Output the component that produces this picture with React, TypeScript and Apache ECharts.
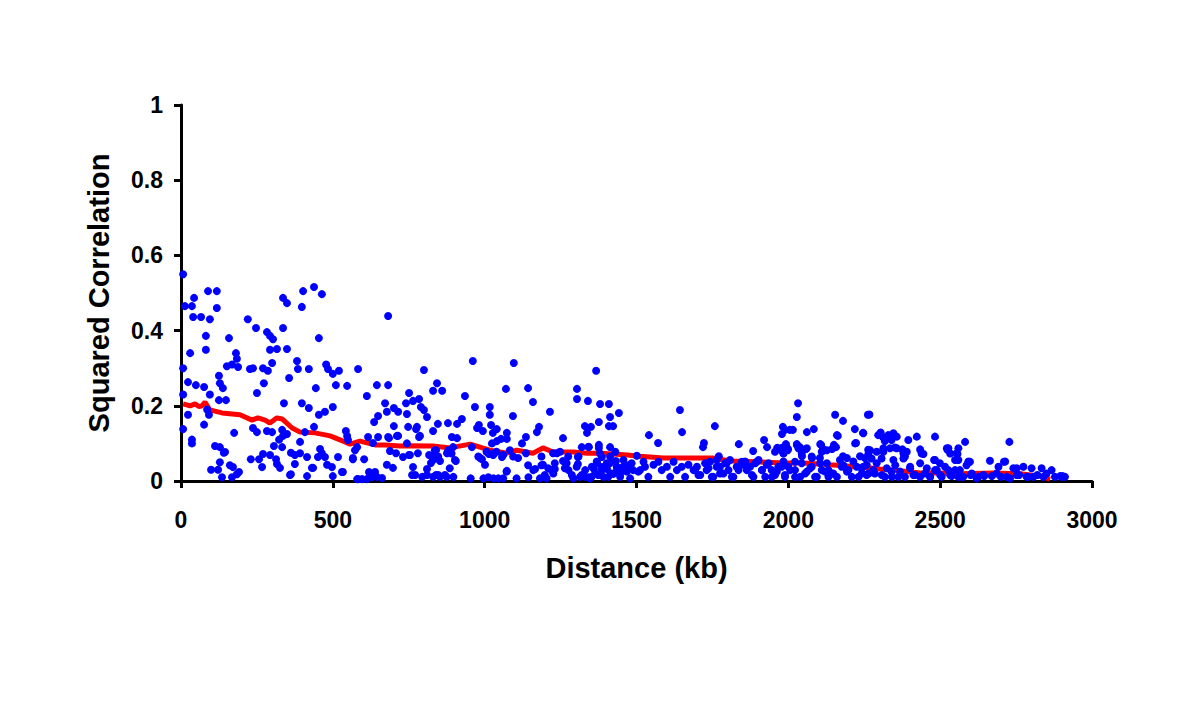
import React, { useEffect, useRef } from "react";
import * as echarts from "echarts";

// Distance (kb), squared correlation
const scatterPoints: [number, number][] = [
  [7,0.55],[13,0.465],[36,0.465],[43,0.487],[89,0.505],[118,0.505],[118,0.46],[40,0.436],[66,0.436],[95,0.43],
  [82,0.386],[82,0.349],[30,0.34],[7,0.30],[23,0.263],[49,0.255],[76,0.25],[7,0.23],[95,0.23],[125,0.28],
  [128,0.26],[138,0.247],[125,0.215],[148,0.215],[86,0.19],[92,0.176],[23,0.176],[76,0.15],[7,0.138],[36,0.11],
  [36,0.10],[158,0.38],[181,0.34],[184,0.325],[168,0.31],[151,0.305],[188,0.303],[175,0.128],[112,0.093],[128,0.09],
  [141,0.075],[128,0.05],[99,0.03],[122,0.03],[135,0.01],[161,0.042],[171,0.037],[168,0.01],[184,0.018],[191,0.024],
  [220,0.43],[247,0.407],[283,0.396],[293,0.386],[303,0.377],[293,0.349],[316,0.351],[300,0.314],[270,0.3],[286,0.293],
  [227,0.298],[237,0.3],[273,0.26],[250,0.234],[237,0.141],[250,0.13],[283,0.133],[300,0.13],[230,0.058],[257,0.058],
  [270,0.072],[293,0.069],[267,0.037],[306,0.093],[313,0.058],[316,0.045],[326,0.035],[323,0.11],[333,0.09],[333,0.136],
  [336,0.12],[349,0.125],[336,0.487],[349,0.473],[336,0.407],[349,0.351],[356,0.274],[339,0.207],[362,0.075],[375,0.045],
  [362,0.018],[382,0.319],[385,0.298],[398,0.463],[402,0.505],[438,0.516],[464,0.497],[454,0.38],[421,0.298],[444,0.247],
  [478,0.31],[484,0.298],[500,0.285],[520,0.293],[510,0.255],[547,0.253],[583,0.298],[645,0.255],[682,0.255],[682,0.439],
  [398,0.207],[421,0.194],[454,0.176],[474,0.184],[500,0.197],[438,0.144],[392,0.104],[408,0.13],[464,0.074],[451,0.064],
  [415,0.064],[474,0.064],[435,0.035],[415,0.013],[481,0.043],[497,0.037],[500,0.013],[517,0.064],[533,0.024],[543,0.133],
  [547,0.12],[573,0.082],[580,0.09],[566,0.058],[612,0.226],[616,0.117],[636,0.157],[649,0.173],[672,0.207],[678,0.184],
  [701,0.194],[715,0.184],[741,0.207],[744,0.178],[701,0.146],[715,0.12],[685,0.114],[649,0.117],[632,0.101],[688,0.08],
  [708,0.074],[731,0.064],[751,0.069],[678,0.043],[698,0.035],[619,0.024],[639,0.024],[629,0.01],[662,0.008],[580,0.005],
  [596,0.005],[751,0.234],[145,0.077],[392,0.074],[359,0.016],[375,0.069],[550,0.109],[458,0.085],[431,0.035],[530,0.024],
  [566,0.061],[603,0.058],[682,0.117],[711,0.12],[754,0.069],[748,0.144],[777,0.144],[787,0.12],[761,0.016],[771,0.016],
  [794,0.011],[810,0.016],[830,0.011],[840,0.016],[764,0.037],[810,0.032],[830,0.056],[833,0.069],[830,0.133],[840,0.082],
  [583,0.005],[612,0.005],[622,0.021],[645,0.011],
  [764,0.213],[784,0.218],[800,0.295],[843,0.26],[830,0.24],[860,0.24],[790,0.197],[800,0.189],[810,0.17],[774,0.138],
  [784,0.117],[744,0.1],[780,0.074],[817,0.069],[823,0.048],[836,0.082],[843,0.064],[853,0.053],[846,0.152],[879,0.154],
  [876,0.074],[892,0.117],[896,0.09],[905,0.053],[909,0.114],[909,0.152],[925,0.165],[935,0.226],[961,0.319],[968,0.197],
  [975,0.141],[981,0.149],[958,0.09],[985,0.061],[991,0.058],[1001,0.043],[994,0.133],[1017,0.197],[1017,0.176],[1021,0.149],
  [1027,0.128],[1040,0.138],[1024,0.1],[1040,0.106],[1054,0.112],[1073,0.128],[1073,0.112],[1014,0.072],[1031,0.074],[1057,0.064],
  [1083,0.082],[1093,0.173],[1070,0.245],[1096,0.314],[1143,0.247],[1159,0.21],[1172,0.13],[1179,0.144],[1136,0.117],[1123,0.1],
  [1110,0.061],[1136,0.074],[1073,0.027],[1166,0.032],[1192,0.043],[1215,0.184],[1225,0.074],[1238,0.074],[1258,0.114],[1258,0.053],
  [1231,0.032],[1304,0.245],[1304,0.218],[1340,0.213],[1367,0.293],[1380,0.205],[1409,0.205],[1413,0.17],[1442,0.181],[1423,0.146],
  [1409,0.146],[1376,0.157],[1330,0.146],[1350,0.144],[1337,0.128],[1320,0.09],[1376,0.096],[1376,0.088],[1413,0.09],[1343,0.09],
  [1307,0.064],[1307,0.045],[1370,0.048],[1386,0.064],[1413,0.048],[1432,0.053],[1386,0.037],[1360,0.032],[1403,0.032],[1436,0.032],
  [1455,0.037],[1478,0.04],[1501,0.067],
  [853,0.011],[875,0.011],[897,0.011],[954,0.007],[996,0.007],[1012,0.01],[1029,0.007],[1045,0.007],[1061,0.007],[1105,0.007],
  [1144,0.01],[1182,0.007],[1204,0.007],[1292,0.007],[1314,0.011],[1330,0.011],[1341,0.01],[1352,0.011],[1374,0.016],[1391,0.011],
  [1407,0.011],[1424,0.019],[1446,0.02],[1468,0.025],[1489,0.029],[1506,0.025],
  [1006,0.078],[1028,0.069],[1039,0.078],[979,0.065],[1061,0.069],[1072,0.025],[1094,0.065],[1143,0.042],[1160,0.029],[1187,0.065],
  [1187,0.042],[1198,0.016],[1209,0.034],[1220,0.029],[1226,0.02],[1231,0.047],[1248,0.078],[1264,0.034],[1275,0.065],[847,0.065],
  [880,0.082],[891,0.073],[902,0.056],[885,0.034],[869,0.016],[847,0.016],
  [1270,0.047],[1276,0.029],[1287,0.016],[1303,0.038],[1309,0.065],[1320,0.016],[1331,0.029],[1342,0.091],[1347,0.007],[1353,0.038],
  [1364,0.02],[1369,0.052],[1380,0.073],[1386,0.029],[1402,0.047],[1413,0.065],[1419,0.02],[1430,0.078],[1435,0.038],[1446,0.011],
  [1457,0.056],[1463,0.029],[1474,0.042],[1479,0.007],
  [1643,0.189],[1650,0.13],[1541,0.122],[1571,0.101],[1758,0.146],[1722,0.101],[1719,0.09],[1837,0.098],[1920,0.109],[1930,0.09],
  [1884,0.08],[1771,0.066],[1963,0.088],[1982,0.144],[1989,0.136],[2005,0.136],[2015,0.136],[1979,0.125],[1992,0.096],[1979,0.088],
  [1999,0.085],[2032,0.207],[2028,0.17],[2061,0.13],[2084,0.138],[2028,0.096],[2038,0.09],[2058,0.085],[2045,0.066],[2078,0.061],
  [2108,0.096],[2114,0.085],[2104,0.061],[2154,0.176],[2180,0.16],[2160,0.122],[2163,0.12],[2150,0.096],[2157,0.09],[2144,0.085],
  [2180,0.066],[2219,0.138],[2223,0.101],[2246,0.128],[2262,0.176],[2236,0.066],[2252,0.061],[2193,0.061],
  [1484,0.047],[1512,0.029],[1523,0.051],[1528,0.038],[1539,0.011],[1556,0.043],[1572,0.051],[1583,0.029],[1600,0.038],[1611,0.011],
  [1622,0.051],[1633,0.029],[1649,0.038],[1660,0.011],[1671,0.043],[1688,0.029],[1699,0.038],[1710,0.016],[1731,0.029],[1742,0.051],
  [1753,0.011],[1764,0.038],[1775,0.02],[1792,0.047],[1803,0.029],[1819,0.011],[1830,0.038],[1847,0.051],[1852,0.043],[1863,0.029],
  [1874,0.038],[1885,0.011],[1896,0.051],[1913,0.029],[1929,0.043],[1946,0.011],[1962,0.025],[1978,0.038],[1989,0.011],[2006,0.029],
  [2022,0.051],[2039,0.011],[2061,0.025],[2077,0.038],[2094,0.011],[2110,0.029],[2127,0.047],[2143,0.02],[2160,0.011],[2176,0.038],
  [2193,0.025],[2209,0.011],[2225,0.038],[2242,0.02],[2258,0.043],
  [1956,0.078],[1967,0.087],[1981,0.078],[1992,0.098],[1998,0.082],[1984,0.073],[2028,0.098],[2033,0.087],[2044,0.073],[2061,0.087],
  [2077,0.065],[2105,0.098],[2110,0.078],[2127,0.082],
  [1693,0.029],[1704,0.016],[1726,0.047],[1737,0.034],[1748,0.011],[1764,0.056],[1775,0.038],[1786,0.02],[1797,0.047],[1808,0.056],
  [1814,0.011],[1836,0.029],[1847,0.047],[1858,0.052],[1869,0.038],[1880,0.016],[1891,0.047],[1902,0.056],[1913,0.029],[1924,0.011],
  [1935,0.047],[1945,0.029],[1956,0.016],[1967,0.038],[1984,0.052],[1989,0.016],[2000,0.038],[2022,0.029],[2022,0.011],[2044,0.047],
  [2055,0.02],[2072,0.034],[2088,0.011],[2105,0.047],[2121,0.025],[2132,0.011],
  [2220,0.1],[2269,0.082],[2264,0.073],[2313,0.078],[2335,0.087],[2357,0.087],[2379,0.073],[2384,0.065],[2439,0.073],[2483,0.056],
  [2522,0.087],[2533,0.073],
  [2132,0.029],[2148,0.02],[2170,0.056],[2181,0.042],[2198,0.029],[2214,0.052],[2231,0.011],[2247,0.038],[2264,0.02],[2280,0.029],
  [2291,0.047],[2308,0.016],[2324,0.034],[2341,0.011],[2352,0.042],[2368,0.025],[2384,0.011],[2401,0.038],[2417,0.016],[2434,0.047],
  [2450,0.02],[2467,0.011],[2483,0.029],[2500,0.016],[2516,0.038],[2533,0.016],[2549,0.029],[2560,0.011],
  [2267,0.177],[2247,0.127],[2296,0.122],[2304,0.129],[2313,0.116],[2318,0.106],[2329,0.122],[2346,0.127],[2357,0.118],[2351,0.089],
  [2340,0.109],[2376,0.084],[2390,0.078],[2395,0.109],[2423,0.118],[2434,0.084],[2445,0.072],[2483,0.118],[2480,0.056],[2499,0.047],
  [2524,0.083],[2527,0.087],[2560,0.087],[2557,0.072],[2549,0.056],[2582,0.104],[2593,0.049],[2598,0.051],[2664,0.054],[2710,0.051],
  [2728,0.104],[2741,0.034],[2774,0.038],[2801,0.034],[2834,0.034],[2867,0.029],[2895,0.013],[2903,0.013],[2878,0.011],[2263,0.083],
  [2291,0.078],[2313,0.087],[2274,0.06],[2307,0.06],[2346,0.056],[2379,0.06],[2401,0.034],[2456,0.034],[2489,0.029],[2527,0.029],
  [2565,0.029],[2604,0.02],[2642,0.016],[2686,0.02],[2719,0.011],[2752,0.016],[2807,0.011],[2840,0.011],[2241,0.034],[2258,0.016],
  [2285,0.02],[2318,0.011],[2340,0.025],[2362,0.011],[2412,0.016],[2434,0.011],[2467,0.011],[2505,0.011],[2538,0.013],[2576,0.011],
  [2626,0.011],[2670,0.013],[2785,0.011],
  [2554,0.074],[2560,0.056],[2593,0.052],[2587,0.042],[2692,0.038],[2714,0.052],[2752,0.034],[2900,0.011],[2911,0.011],
  [2570,0.011],[2600,0.016],[2620,0.007],[2645,0.013],[2700,0.011],[2730,0.007],[2760,0.016],[2790,0.011],[2820,0.016],[2850,0.02]
];

// Moving-average trend (red line)
const trendPoints: [number, number][] = [
  [7,0.205],[30,0.2],[46,0.205],[60,0.198],[69,0.2],[79,0.21],[95,0.189],[135,0.181],[194,0.176],[234,0.162],
  [253,0.168],[277,0.162],[293,0.154],[316,0.168],[333,0.165],[366,0.141],[392,0.13],[441,0.128],[491,0.12],[540,0.104],
  [557,0.098],[589,0.106],[639,0.096],[672,0.096],[721,0.093],[754,0.094],[830,0.093],[886,0.088],[952,0.098],[1017,0.082],
  [1073,0.074],[1106,0.082],[1159,0.074],[1192,0.088],[1225,0.077],[1291,0.077],[1337,0.074],[1380,0.074],[1423,0.072],[1469,0.069],
  [1511,0.066],[1587,0.061],[1666,0.061],[1752,0.061],[1808,0.053],[1897,0.051],[1982,0.048],[2048,0.048],[2137,0.043],[2193,0.04],
  [2246,0.037],[2302,0.032],[2368,0.027],[2434,0.021],[2499,0.021],[2565,0.019],[2674,0.021],[2763,0.019],[2829,0.013],[2862,0.005]
];

const xTicks = { min: 0, max: 3000, interval: 500 };
const yTicks = { min: 0, max: 1, interval: 0.2 };

const FONT = "'Liberation Sans', Arial, sans-serif";

export default function App() {
  const ref = useRef<HTMLDivElement>(null);
  useEffect(() => {
    if (!ref.current) return;
    const chart = echarts.init(ref.current, undefined, { renderer: "svg" });
    const axisCommon = {
      axisLine: { show: true, onZero: false, lineStyle: { color: "#000", width: 3 } },
      axisTick: { show: true, inside: false, length: 7, lineStyle: { color: "#000", width: 3 } },
      splitLine: { show: false },
      nameTextStyle: { fontSize: 29, fontWeight: "bold", color: "#000", fontFamily: FONT },
    };
    const labelStyle = { fontSize: 23, fontWeight: "bold", color: "#000", fontFamily: FONT };
    chart.setOption({
      animation: false,
      backgroundColor: "#fff",
      grid: { left: 181, right: 108, top: 105, bottom: 239, containLabel: false },
      xAxis: {
        type: "value",
        ...xTicks,
        ...axisCommon,
        name: "Distance (kb)",
        nameLocation: "middle",
        nameGap: 72,
        axisLabel: { ...labelStyle, margin: 27, formatter: (v: number) => String(v) },
      },
      yAxis: {
        type: "value",
        ...yTicks,
        ...axisCommon,
        name: "Squared Correlation",
        nameLocation: "middle",
        nameGap: 68,
        nameRotate: 90,
        axisLabel: { ...labelStyle, margin: 18, formatter: (v: number) => String(Math.round(v * 10) / 10) },
      },
      series: [
        {
          type: "line",
          data: trendPoints,
          showSymbol: false,
          symbol: "none",
          smooth: false,
          lineStyle: { color: "#ff0000", width: 5 },
          z: 2,
        },
        {
          type: "scatter",
          data: scatterPoints,
          symbol: "circle",
          symbolSize: 8,
          itemStyle: { color: "#0000ff", opacity: 1 },
          z: 3,
        },
      ],
    });
    return () => chart.dispose();
  }, []);
  return (
    <div
      ref={ref}
      style={{ position: "fixed", left: 0, top: 0, width: 1200, height: 720, background: "#fff" }}
    />
  );
}
